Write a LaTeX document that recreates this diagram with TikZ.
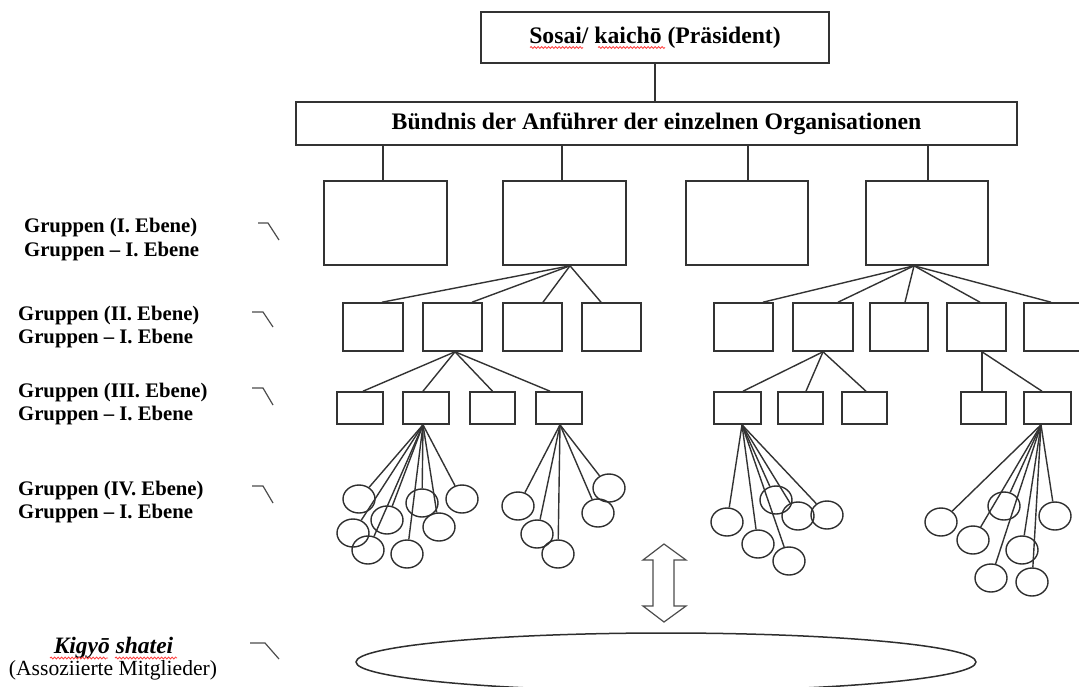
\documentclass[tikz,border=0pt]{standalone}
\usepackage{fontspec}
\setmainfont{Liberation Serif}
\usetikzlibrary{shapes.geometric,decorations.pathmorphing}
\begin{document}
\begin{tikzpicture}[x=1pt,y=-1pt,
  box/.style={draw=black!80, line width=1.6pt, rectangle, inner sep=0pt},
  titlebox/.style={box, font=\fontsize{23.7}{28}\selectfont\bfseries},
  l1box/.style={box, minimum width=123pt, minimum height=84pt},
  l2box/.style={box, minimum width=59pt, minimum height=48pt},
  l3box/.style={box, minimum width=46pt, minimum height=32pt},
  conn/.style={draw=black!80, line width=1.4pt},
  circ/.style={draw=black!82, line width=1.4pt, ellipse, minimum width=32pt, minimum height=28pt, inner sep=0pt},
  lbl/.style={font=\fontsize{20.7}{24}\selectfont\bfseries, inner sep=0pt, anchor=base west},
  tick/.style={draw=black!70, line width=1.2pt},
  wavy/.style={draw=red!75, line width=0.8pt, decorate, decoration={snake, segment length=3.5pt, amplitude=1pt}}
]
\useasboundingbox (0,0) rectangle (1079,686);

% top boxes
\node[titlebox, minimum width=348pt, minimum height=51pt] (top) at (655,37.5) {Sosai/ kaichō (Präsident)};
\node[titlebox, minimum width=721pt, minimum height=43pt] (bnd) at (656.5,123.5) {Bündnis der Anführer der einzelnen Organisationen};
\draw[conn] (top.south) -- (top.south |- bnd.north);

% level 1
\node[l1box] (l1a) at (385.5,223) {};
\node[l1box] (l1b) at (564.5,223) {};
\node[l1box, minimum width=122pt] (l1c) at (747,223) {};
\node[l1box, minimum width=122pt] (l1d) at (927,223) {};
\foreach \n/\dx in {l1a/-2.5,l1b/-2.5,l1c/1,l1d/1}
  \draw[conn] ([xshift=\dx]\n.north) -- ([xshift=\dx]\n.north |- bnd.south);

% level 2
\node[l2box, minimum width=60pt] (l2a) at (373,327) {};
\node[l2box] (l2b) at (452.5,327) {};
\node[l2box] (l2c) at (532.5,327) {};
\node[l2box] (l2d) at (611.5,327) {};
\node[l2box] (l2e) at (743.5,327) {};
\node[l2box, minimum width=60pt] (l2f) at (823,327) {};
\node[l2box, minimum width=58pt] (l2g) at (899,327) {};
\node[l2box] (l2h) at (976.5,327) {};
\node[l2box] (l2i) at (1053.5,327) {};

\coordinate (pB) at ([xshift=5.5]l1b.south);
\coordinate (pD) at ([xshift=-13]l1d.south);
\foreach \n/\dx in {l2a/9,l2b/19.5,l2c/10.5,l2d/-10.5}
  \draw[conn] (pB) -- ([xshift=\dx]\n.north);
\foreach \n/\dx in {l2e/19.5,l2f/15,l2g/6,l2h/3.5,l2i/-2.5}
  \draw[conn] (pD) -- ([xshift=\dx]\n.north);

% level 3
\node[l3box] (l3a) at (360,408) {};
\node[l3box] (l3b) at (426,408) {};
\node[l3box, minimum width=45pt] (l3c) at (492.5,408) {};
\node[l3box] (l3d) at (559,408) {};
\node[l3box, minimum width=47pt] (l3e) at (737.5,408) {};
\node[l3box, minimum width=45pt] (l3f) at (800.5,408) {};
\node[l3box, minimum width=45pt] (l3g) at (864.5,408) {};
\node[l3box, minimum width=45pt] (l3h) at (983.5,408) {};
\node[l3box, minimum width=47pt] (l3i) at (1047.5,408) {};

\coordinate (p2b) at ([xshift=2.5]l2b.south);
\coordinate (p2f) at (l2f.south);
\coordinate (p2h) at ([xshift=5.5]l2h.south);
\foreach \n/\dx in {l3a/3,l3b/-3,l3c/0,l3d/-9}
  \draw[conn] (p2b) -- ([xshift=\dx]\n.north);
\foreach \n/\dx in {l3e/5.5,l3f/5.5,l3g/1.5}
  \draw[conn] (p2f) -- ([xshift=\dx]\n.north);
\draw[conn] (p2h) -- (p2h |- l3h.north);
\draw[conn] (p2h) -- ([xshift=-5.5]l3i.north);

% level 4 circles
\coordinate (q1) at ([xshift=-3]l3b.south);
\coordinate (q2) at ([xshift=1]l3d.south);
\coordinate (q3) at ([xshift=4.5]l3e.south);
\coordinate (q4) at ([xshift=-6.5]l3i.south);

\foreach \i/\p in {1/{(359,499)},2/{(387,520)},3/{(353,533)},4/{(368,550)},5/{(422,503)},6/{(439,527)},7/{(407,554)},8/{(462,499)}}
  {\node[circ] (ca\i) at \p {}; \draw[conn] (q1) -- (ca\i);}
\foreach \i/\p in {1/{(518,506)},2/{(537,534)},3/{(558,554)},4/{(598,513)},5/{(609,488)}}
  {\node[circ] (cb\i) at \p {}; \draw[conn] (q2) -- (cb\i);}
\foreach \i/\p in {1/{(727,522)},2/{(758,544)},3/{(789,561)},4/{(776,500)},5/{(798,516)},6/{(827,515)}}
  {\node[circ] (cc\i) at \p {}; \draw[conn] (q3) -- (cc\i);}
\foreach \i/\p in {1/{(941,522)},2/{(973,540)},3/{(1004,506)},4/{(1022,550)},5/{(991,578)},6/{(1032,582)},7/{(1055,516)}}
  {\node[circ] (cd\i) at \p {}; \draw[conn] (q4) -- (cd\i);}

% double arrow
\draw[draw=black!70, line width=1.2pt, line join=miter]
  (664,544) -- (686,560) -- (674,560) -- (674,606) -- (686,606) -- (664,622)
  -- (643,606) -- (653,606) -- (653,560) -- (643,560) -- cycle;

% bottom ellipse
\node[draw=black!82, line width=1.5pt, ellipse, minimum width=620pt, minimum height=58pt, inner sep=0pt] (assoc) at (666,662) {};

% left labels
\node[lbl] (g1a) at (24,232) {Gruppen (I. Ebene)};
\node[lbl] (g1b) at (24,256) {Gruppen – I. Ebene};
\node[lbl] (g2a) at (18,320) {Gruppen (II. Ebene)};
\node[lbl] (g2b) at (18,343) {Gruppen – I. Ebene};
\node[lbl] (g3a) at (18,397) {Gruppen (III. Ebene)};
\node[lbl] (g3b) at (18,420) {Gruppen – I. Ebene};
\node[lbl] (g4a) at (18,495) {Gruppen (IV. Ebene)};
\node[lbl] (g4b) at (18,518) {Gruppen – I. Ebene};
\node[font=\fontsize{23.5}{28}\selectfont\bfseries\itshape, inner sep=0pt, anchor=base] (kig) at (113.5,653) {Kigyō shatei};
\node[font=\fontsize{21.6}{26}\selectfont, inner sep=0pt, anchor=base] (ass) at (113,675) {(Assoziierte Mitglieder)};

% ticks
\draw[tick] (258,223) -- (268,223) -- (279,240);
\draw[tick] (252,312) -- (263,312) -- (273,327);
\draw[tick] (252,388) -- (263,388) -- (273,405);
\draw[tick] (252,486) -- (263,486) -- (273,503);
\draw[tick] (250,643) -- (265,643) -- (279,659);

% spell-check underlines
\draw[wavy] (530,47.5) -- (583,47.5);
\draw[wavy] (598,47.5) -- (665,47.5);
\draw[wavy] (50,658) -- (108,658);
\draw[wavy] (115,658) -- (177,658);
\end{tikzpicture}
\end{document}
